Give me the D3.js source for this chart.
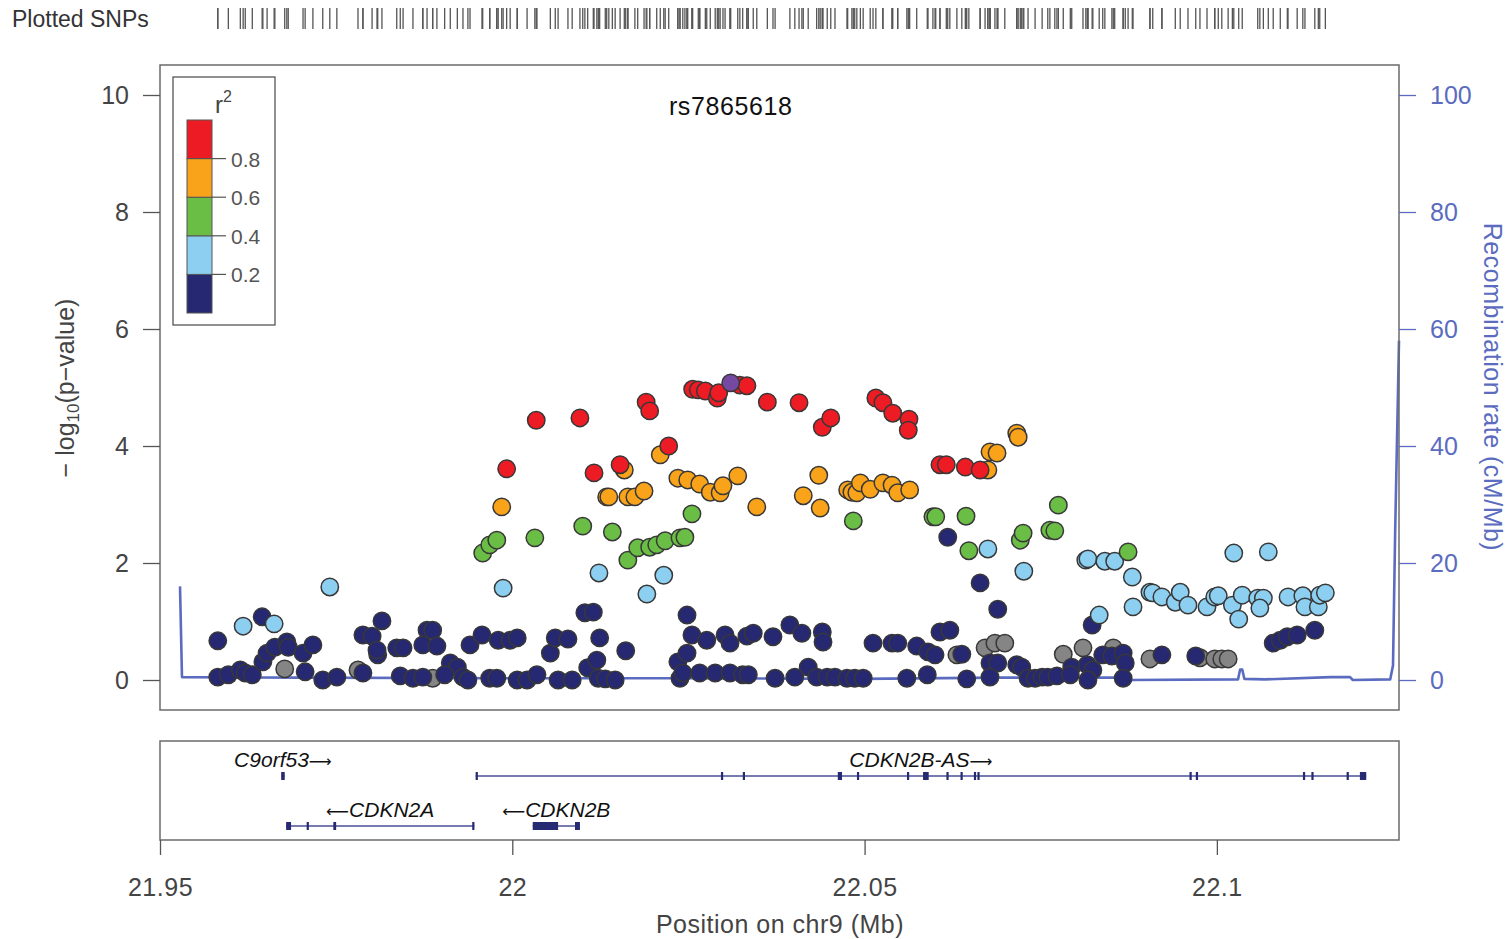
<!DOCTYPE html>
<html>
<head>
<meta charset="utf-8">
<script src="https://cdn.jsdelivr.net/npm/d3@7"></script>
<style>
  html, body { margin: 0; padding: 0; background: #fff; }
  svg { display: block; font-family: "Liberation Sans", Arial, sans-serif; }
</style>
</head>
<body>
<svg id="chart" width="1509" height="939"></svg>
<script>
// ---- Regional association data, chr9 (positions in Mb, values are -log10 p) ----
const leadSnp = { id: "rs7865618", pos: 22.0310, logp: 5.08 };

// r^2 bins: upper edges and fills
const ldBreaks = [0.2, 0.4, 0.6, 0.8];
const ldColors = ["#262872", "#8ccff1", "#6abd45", "#f9a31b", "#ed1c24"];
const naColor = "#858585";
const leadColor = "#7549a2";

// SNPs with no LD information
const snpsNA = [
  [21.9677, 0.19], [21.9781, 0.17], [21.9887, 0.03], [22.0631, 0.43], [22.0671, 0.55],
  [22.0685, 0.63], [22.0699, 0.63], [22.0782, 0.44], [22.0810, 0.55], [22.0853, 0.55],
  [22.0905, 0.36], [22.0976, 0.38], [22.0997, 0.36], [22.1007, 0.36], [22.1016, 0.36]
];

// r^2 < 0.2
const snpsLD0 = [
  [21.9582, 0.67], [21.9645, 1.08], [21.9582, 0.05], [21.9597, 0.09], [21.9614, 0.17],
  [21.9621, 0.12], [21.9631, 0.09], [21.9646, 0.31], [21.9652, 0.46], [21.9663, 0.56],
  [21.9680, 0.65], [21.9682, 0.56], [21.9703, 0.46], [21.9717, 0.60], [21.9706, 0.14],
  [21.9731, 0.00], [21.9751, 0.05], [21.9788, 0.77], [21.9801, 0.75], [21.9815, 1.01],
  [21.9809, 0.43], [21.9808, 0.51], [21.9788, 0.12], [21.9836, 0.55], [21.9845, 0.55],
  [21.9841, 0.07], [21.9859, 0.03], [21.9873, 0.05], [21.9879, 0.85], [21.9887, 0.85],
  [21.9873, 0.60], [21.9893, 0.58], [21.9912, 0.29], [21.9922, 0.22], [21.9904, 0.09],
  [21.9930, 0.05], [21.9937, 0.00], [21.9940, 0.60], [21.9957, 0.77], [21.9980, 0.68],
  [21.9997, 0.68], [22.0007, 0.72], [21.9968, 0.03], [21.9978, 0.03], [22.0007, 0.00],
  [22.0021, 0.00], [22.0035, 0.09], [22.0054, 0.46], [22.0061, 0.72], [22.0079, 0.70],
  [22.0065, 0.00], [22.0085, 0.00], [22.0103, 1.15], [22.0115, 1.16], [22.0124, 0.72],
  [22.0107, 0.21], [22.0120, 0.34], [22.0122, 0.03], [22.0132, 0.02], [22.0146, 0.00],
  [22.0161, 0.50], [22.0238, 0.03], [22.0235, 0.31], [22.0248, 0.46], [22.0242, 0.12],
  [22.0248, 1.11], [22.0255, 0.77], [22.0276, 0.68], [22.0266, 0.12], [22.0288, 0.12],
  [22.0309, 0.12], [22.0327, 0.09], [22.0335, 0.09], [22.0302, 0.77], [22.0309, 0.63],
  [22.0333, 0.75], [22.0342, 0.80], [22.0370, 0.74], [22.0394, 0.94], [22.0411, 0.80],
  [22.0440, 0.82], [22.0441, 0.65], [22.0373, 0.03], [22.0401, 0.05], [22.0420, 0.22],
  [22.0432, 0.05], [22.0447, 0.05], [22.0458, 0.05], [22.0475, 0.03], [22.0486, 0.03],
  [22.0498, 0.03], [22.0512, 0.63], [22.0539, 0.63], [22.0547, 0.63], [22.0560, 0.03],
  [22.0589, 0.09], [22.0574, 0.58], [22.0590, 0.48], [22.0600, 0.43], [22.0607, 0.82],
  [22.0621, 0.85], [22.0618, 2.44], [22.0664, 1.66], [22.0689, 1.21], [22.0638, 0.44],
  [22.0645, 0.02], [22.0678, 0.29], [22.0689, 0.29], [22.0678, 0.05], [22.0716, 0.26],
  [22.0723, 0.22], [22.0732, 0.03], [22.0742, 0.03], [22.0752, 0.05], [22.0760, 0.05],
  [22.0773, 0.07], [22.0794, 0.22], [22.0792, 0.09], [22.0816, 0.26], [22.0824, 0.17],
  [22.0817, 0.00], [22.0823, 0.94], [22.0838, 0.43], [22.0851, 0.41], [22.0867, 0.46],
  [22.0870, 0.29], [22.0867, 0.03], [22.0922, 0.43], [22.0970, 0.41], [22.1080, 0.63],
  [22.1090, 0.68], [22.1100, 0.74], [22.1114, 0.77], [22.1139, 0.85]
];

// 0.2 <= r^2 < 0.4
const snpsLD1 = [
  [21.9618, 0.92], [21.9662, 0.96], [21.9741, 1.59], [21.9987, 1.57], [22.0123, 1.83],
  [22.0191, 1.47], [22.0215, 1.79], [22.0675, 2.24], [22.0726, 1.86], [22.0814, 2.05],
  [22.0817, 2.07], [22.0841, 2.03], [22.0855, 2.03], [22.0833, 1.11], [22.0880, 1.76],
  [22.0881, 1.25], [22.0905, 1.50], [22.0909, 1.49], [22.0922, 1.42], [22.0941, 1.33],
  [22.0948, 1.50], [22.0959, 1.28], [22.0986, 1.25], [22.0997, 1.42], [22.1002, 1.44],
  [22.1022, 1.28], [22.1031, 1.04], [22.1036, 1.45], [22.1058, 1.40], [22.1066, 1.40],
  [22.1061, 1.23], [22.1101, 1.42], [22.1122, 1.44], [22.1125, 1.25], [22.1144, 1.25],
  [22.1146, 1.45], [22.1154, 1.49], [22.1024, 2.17], [22.1073, 2.19]
];

// 0.4 <= r^2 < 0.6
const snpsLD2 = [
  [21.9958, 2.17], [21.9968, 2.31], [21.9978, 2.39], [22.0032, 2.43], [22.0100, 2.63],
  [22.0142, 2.53], [22.0164, 2.05], [22.0178, 2.26], [22.0195, 2.27], [22.0205, 2.31],
  [22.0217, 2.38], [22.0238, 2.43], [22.0245, 2.44], [22.0255, 2.84], [22.0484, 2.72],
  [22.0597, 2.79], [22.0601, 2.79], [22.0644, 2.80], [22.0648, 2.21], [22.0721, 2.39],
  [22.0725, 2.51], [22.0763, 2.56], [22.0770, 2.55], [22.0775, 2.99], [22.0874, 2.19]
];

// 0.6 <= r^2 < 0.8
const snpsLD3 = [
  [21.9985, 2.96], [22.0134, 3.13], [22.0137, 3.13], [22.0159, 3.59], [22.0164, 3.13],
  [22.0174, 3.13], [22.0187, 3.23], [22.0210, 3.85], [22.0235, 3.45], [22.0249, 3.42],
  [22.0266, 3.35], [22.0281, 3.21], [22.0295, 3.20], [22.0299, 3.32], [22.0320, 3.49],
  [22.0347, 2.96], [22.0413, 3.15], [22.0435, 3.50], [22.0437, 2.94], [22.0476, 3.25],
  [22.0482, 3.21], [22.0489, 3.20], [22.0494, 3.37], [22.0508, 3.26], [22.0526, 3.37],
  [22.0539, 3.33], [22.0547, 3.20], [22.0564, 3.25], [22.0675, 3.59], [22.0678, 3.90],
  [22.0688, 3.88], [22.0716, 4.22], [22.0718, 4.15]
];

// r^2 >= 0.8
const snpsLD4 = [
  [21.9992, 3.61], [22.0034, 4.44], [22.0096, 4.48], [22.0116, 3.54], [22.0153, 3.68],
  [22.0190, 4.75], [22.0195, 4.60], [22.0222, 4.00], [22.0256, 4.97], [22.0264, 4.96],
  [22.0274, 4.94], [22.0291, 4.82], [22.0293, 4.91], [22.0323, 5.04], [22.0333, 5.03],
  [22.0362, 4.75], [22.0407, 4.74], [22.0440, 4.32], [22.0452, 4.48], [22.0516, 4.82],
  [22.0526, 4.74], [22.0540, 4.56], [22.0563, 4.46], [22.0562, 4.27], [22.0607, 3.68],
  [22.0616, 3.68], [22.0643, 3.64], [22.0664, 3.59]
];

// Recombination rate (cM/Mb) along the region
const recombPos  = [21.95284, 21.95312, 21.9699, 21.9983, 22.0266, 22.0494, 22.0692, 22.0870,
                    22.0877, 22.1030, 22.1033, 22.1036, 22.1039, 22.1068, 22.1161, 22.1189,
                    22.1193, 22.1246, 22.1250, 22.1253, 22.12585];
const recombRate = [16.0, 0.5, 0.4, 0.3, 0.3, 0.2, 0.4, 0.4,
                    0.0, 0.1, 1.8, 1.8, 0.2, 0.1, 0.5, 0.5,
                    0.0, 0.1, 2.5, 25.0, 58.0];

// Genes: name, start, end, strand, row, exons
const genes = [
  { name: "C9orf53",   start: 21.9672, end: 21.9677, strand: "+", row: 0,
    exons: [[21.9672, 21.9677]] },
  { name: "CDKN2B-AS", start: 21.9948, end: 22.1212, strand: "+", row: 0,
    exons: [[21.9948, 21.9951], [22.0298, 22.0299], [22.0329, 22.0330], [22.0462, 22.0468],
            [22.0491, 22.0492], [22.0562, 22.0563], [22.0583, 22.0591], [22.0618, 22.0619],
            [22.0638, 22.0639], [22.0657, 22.0658], [22.0662, 22.0663], [22.0963, 22.0964],
            [22.0972, 22.0973], [22.1124, 22.1125], [22.1136, 22.1137], [22.1186, 22.1187],
            [22.1203, 22.1212]] },
  { name: "CDKN2A",    start: 21.9679, end: 21.9946, strand: "-", row: 1,
    exons: [[21.9679, 21.9686], [21.9710, 21.9711], [21.9746, 21.9750], [21.9944, 21.9946]] },
  { name: "CDKN2B",    start: 22.0029, end: 22.0096, strand: "-", row: 1,
    exons: [[22.0029, 22.0065], [22.0089, 22.0096]] }
];

// Axis ticks
const xTicks = [21.95, 22.0, 22.05, 22.1];
const xTickLabels = ["21.95", "22", "22.05", "22.1"];
const yTicks = [0, 2, 4, 6, 8, 10];
const recombTicks = [0, 20, 40, 60, 80, 100];

// ---- Layout ----
const svg = d3.select("#chart");
const plot = { left: 160, right: 1399, top: 65, bottom: 710 };
const genePanel = { top: 741, bottom: 840 };
const axisGrey = "#444";
const recombColor = "#5b6cc0";
const bigFont = 25;
const fontFamily = "Liberation Sans, Arial, sans-serif";

const x = d3.scaleLinear().domain([21.95, 22.12585]).range([plot.left, plot.right]);
const y = d3.scaleLinear().domain([-0.5128, 10.513]).range([plot.bottom, plot.top]);
const yRec = d3.scaleLinear().domain([-5.128, 105.13]).range([plot.bottom, plot.top]);

// ---- Plotted SNPs rug ----
const allSnps = [].concat(snpsNA, snpsLD0, snpsLD1, snpsLD2, snpsLD3, snpsLD4, [[leadSnp.pos, leadSnp.logp]]);
svg.append("text")
  .attr("x", 12).attr("y", 27)
  .attr("font-size", 23).attr("fill", "#333")
  .text("Plotted SNPs");
svg.append("g").selectAll("line")
  .data(allSnps.map(d => d[0]))
  .join("line")
  .attr("x1", d => x(d)).attr("x2", d => x(d))
  .attr("y1", 8).attr("y2", 29)
  .attr("stroke", "#555").attr("stroke-width", 1.3);

// ---- Main panel ----
// recombination rate line (under the points)
const recLine = d3.line().x(d => x(d[0])).y(d => yRec(d[1]));
svg.append("path")
  .datum(recombPos.map((p, i) => [p, recombRate[i]]))
  .attr("d", recLine)
  .attr("fill", "none")
  .attr("stroke", recombColor)
  .attr("stroke-width", 2.6)
  .attr("stroke-linejoin", "round");

// SNP points: lowest LD drawn first, lead SNP on top
const layers = [
  { data: snpsNA, fill: naColor },
  { data: snpsLD0, fill: ldColors[0] },
  { data: snpsLD1, fill: ldColors[1] },
  { data: snpsLD2, fill: ldColors[2] },
  { data: snpsLD3, fill: ldColors[3] },
  { data: snpsLD4, fill: ldColors[4] },
  { data: [[leadSnp.pos, leadSnp.logp]], fill: leadColor }
];
const pts = svg.append("g");
layers.forEach(layer => {
  pts.append("g").selectAll("circle")
    .data(layer.data)
    .join("circle")
    .attr("cx", d => x(d[0]))
    .attr("cy", d => y(d[1]))
    .attr("r", 8.7)
    .attr("fill", layer.fill)
    .attr("stroke", "#383838")
    .attr("stroke-width", 1.5);
});

// frame
svg.append("rect")
  .attr("x", plot.left).attr("y", plot.top)
  .attr("width", plot.right - plot.left).attr("height", plot.bottom - plot.top)
  .attr("fill", "none").attr("stroke", "#6b6b6b").attr("stroke-width", 1.5);

// left axis
const gLeft = svg.append("g")
  .attr("transform", `translate(${plot.left},0)`)
  .call(d3.axisLeft(y).tickValues(yTicks).tickSize(17).tickPadding(14).tickFormat(d3.format("d")));
gLeft.select(".domain").remove();
gLeft.selectAll(".tick line").attr("stroke", "#555").attr("stroke-width", 1.3);
gLeft.selectAll(".tick text").attr("fill", axisGrey).attr("font-size", bigFont)
  .attr("font-family", fontFamily);

// right axis
const gRight = svg.append("g")
  .attr("transform", `translate(${plot.right},0)`)
  .call(d3.axisRight(yRec).tickValues(recombTicks).tickSize(17).tickPadding(14).tickFormat(d3.format("d")));
gRight.select(".domain").remove();
gRight.selectAll(".tick line").attr("stroke", recombColor).attr("stroke-width", 1.3);
gRight.selectAll(".tick text").attr("fill", recombColor).attr("font-size", bigFont)
  .attr("font-family", fontFamily);

// lead SNP title
svg.append("text")
  .attr("x", x(leadSnp.pos)).attr("y", 115)
  .attr("text-anchor", "middle").attr("font-size", bigFont).attr("fill", "#111")
  .attr("letter-spacing", 0.6)
  .text(leadSnp.id);

// y-axis titles
const yTitle = svg.append("text")
  .attr("transform", "translate(74,388) rotate(-90)")
  .attr("text-anchor", "middle").attr("font-size", bigFont).attr("fill", axisGrey);
yTitle.append("tspan").text("\u2212 log");
yTitle.append("tspan").attr("font-size", 17).attr("dy", 5).text("10");
yTitle.append("tspan").attr("dy", -5).text("(p\u2212value)");

svg.append("text")
  .attr("transform", "translate(1484,387) rotate(90)")
  .attr("text-anchor", "middle").attr("font-size", bigFont).attr("fill", recombColor)
  .attr("letter-spacing", 0.5)
  .text("Recombination rate (cM/Mb)");

// ---- r^2 legend ----
const legend = svg.append("g");
legend.append("rect")
  .attr("x", 173).attr("y", 77).attr("width", 102).attr("height", 248)
  .attr("fill", "#fff").attr("stroke", "#555").attr("stroke-width", 1.3);
const lt = legend.append("text").attr("x", 215).attr("y", 113)
  .attr("font-size", 24).attr("fill", axisGrey);
lt.append("tspan").text("r");
lt.append("tspan").attr("font-size", 16).attr("dy", -11).text("2");

const ldScale = d3.scaleLinear().domain([0, 1]).range([313, 120]);
const ldEdges = [0].concat(ldBreaks, [1]);
legend.selectAll("rect.bin")
  .data(ldColors)
  .join("rect")
  .attr("class", "bin")
  .attr("x", 187).attr("width", 25)
  .attr("y", (c, i) => ldScale(ldEdges[i + 1]))
  .attr("height", (c, i) => ldScale(ldEdges[i]) - ldScale(ldEdges[i + 1]))
  .attr("fill", c => c).attr("stroke", "#555").attr("stroke-width", 1);
legend.selectAll("line.tk")
  .data(ldBreaks)
  .join("line")
  .attr("class", "tk")
  .attr("x1", 212).attr("x2", 226)
  .attr("y1", d => ldScale(d)).attr("y2", d => ldScale(d))
  .attr("stroke", "#555").attr("stroke-width", 1.2);
legend.selectAll("text.lab")
  .data(ldBreaks)
  .join("text")
  .attr("class", "lab")
  .attr("x", 231).attr("y", d => ldScale(d) + 8)
  .attr("font-size", 21).attr("fill", "#555")
  .text(d => d3.format(".1f")(d));

// ---- Gene panel ----
svg.append("rect")
  .attr("x", plot.left).attr("y", genePanel.top)
  .attr("width", plot.right - plot.left).attr("height", genePanel.bottom - genePanel.top)
  .attr("fill", "none").attr("stroke", "#6b6b6b").attr("stroke-width", 1.5);

const rowY = [776, 826];
const geneG = svg.append("g");
genes.forEach(g => {
  const gy = rowY[g.row];
  geneG.append("line")
    .attr("x1", x(g.start)).attr("x2", x(g.end))
    .attr("y1", gy).attr("y2", gy)
    .attr("stroke", "#4a4f95").attr("stroke-width", 1.4);
  geneG.append("g").selectAll("rect")
    .data(g.exons)
    .join("rect")
    .attr("x", e => Math.min(x(e[0]), x(e[1]) - 2))
    .attr("width", e => Math.max(2.2, x(e[1]) - x(e[0])))
    .attr("y", gy - 4).attr("height", 8)
    .attr("fill", "#252a72");
  const t = geneG.append("text")
    .attr("x", x((g.start + g.end) / 2)).attr("y", gy - 9)
    .attr("text-anchor", "middle")
    .attr("font-size", 21).attr("font-style", "italic").attr("fill", "#111");
  // strand arrow: a long arrow glyph beside the gene name
  const arrow = (sym) => t.append("tspan")
    .attr("font-family", "DejaVu Sans").attr("font-style", "normal").attr("font-size", 16).text(sym);
  if (g.strand === "+") {
    t.append("tspan").text(g.name);
    arrow("\u27F6");
  } else {
    arrow("\u27F5");
    t.append("tspan").text(g.name);
  }
});

// ---- x axis ----
const gBottom = svg.append("g")
  .attr("transform", `translate(0,${genePanel.bottom})`)
  .call(d3.axisBottom(x).tickValues(xTicks).tickSize(15).tickPadding(23)
    .tickFormat((d, i) => xTickLabels[i]));
gBottom.select(".domain").remove();
gBottom.selectAll(".tick line").attr("stroke", "#555").attr("stroke-width", 1.3);
gBottom.selectAll(".tick text").attr("fill", axisGrey).attr("font-size", bigFont)
  .attr("font-family", fontFamily).attr("letter-spacing", 0.5);

svg.append("text")
  .attr("x", 780).attr("y", 933)
  .attr("text-anchor", "middle").attr("font-size", bigFont).attr("fill", axisGrey)
  .attr("letter-spacing", 0.5)
  .text("Position on chr9 (Mb)");
</script>
</body>
</html>
